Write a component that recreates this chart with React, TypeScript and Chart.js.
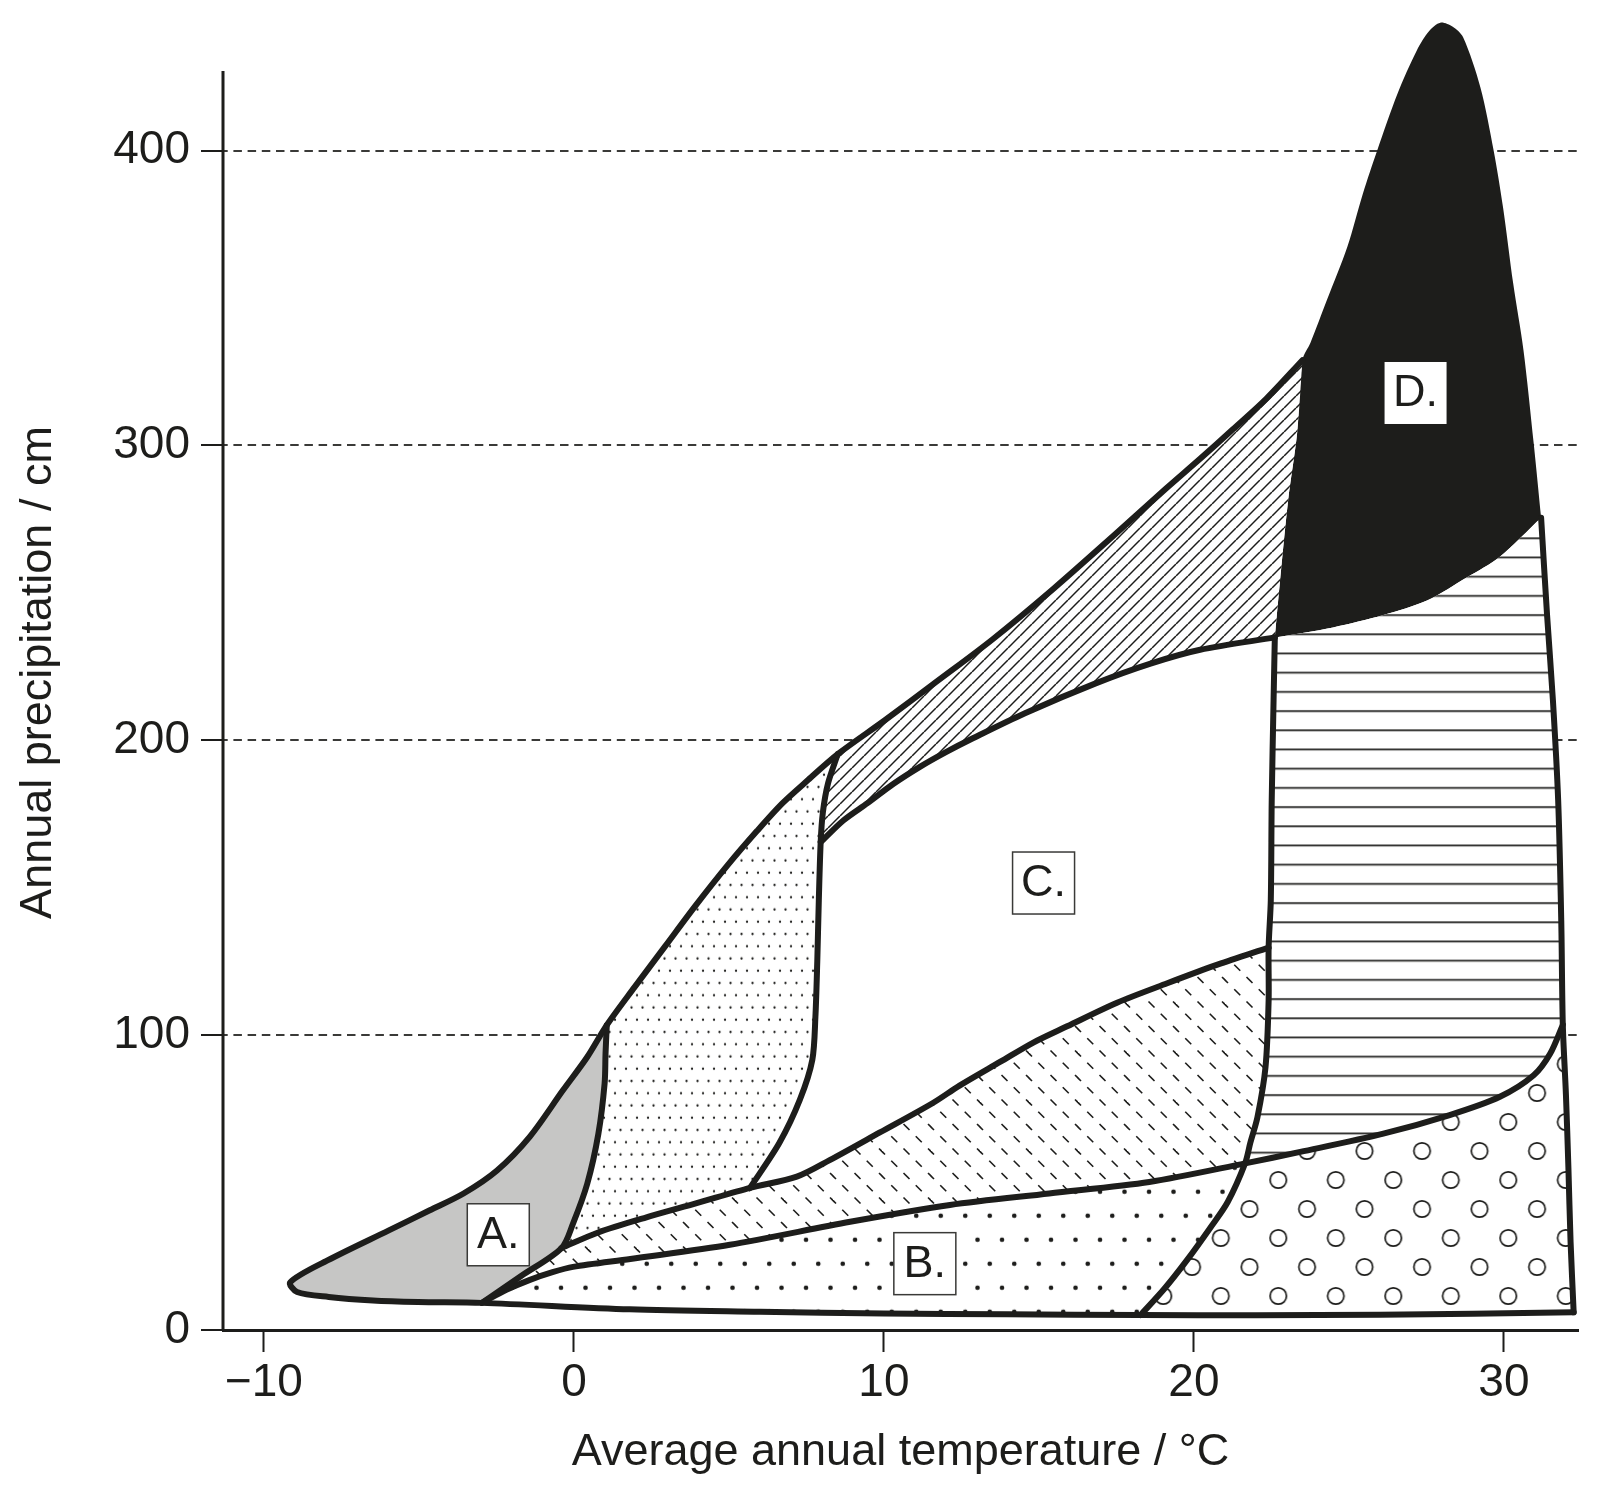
import { useEffect, useRef } from 'react';
import { Chart, registerables } from 'chart.js';

Chart.register(...registerables);

type Pt = [number, number];

// ---- axes ----
const X_MIN = -11.32;
const X_MAX = 32.39;
const Y_MIN = 0;
const Y_MAX = 446;
const Y_AXIS_TOP = 427;
const X_TICKS = [-10, 0, 10, 20, 30];
const Y_TICKS = [0, 100, 200, 300, 400];
const X_TITLE = 'Average annual temperature / °C';
const Y_TITLE = 'Annual precipitation / cm';

// ---- biome boundaries, as [temperature °C, precipitation cm] ----
const BOTTOM_LEFT: Pt[] = [[-9.15, 16.2], [-8.93, 12.9], [-7.91, 11.2], [-6.48, 10.0], [-5.03, 9.5], [-2.97, 9.2]];
const BOTTOM_MID: Pt[] = [[-2.97, 9.2], [1.8, 7.0], [6.0, 6.2], [10.0, 5.6], [14.0, 5.3], [18.28, 5.1]];
const BOTTOM_RIGHT: Pt[] = [[18.28, 5.1], [22.0, 5.0], [26.0, 5.2], [29.0, 5.5], [32.25, 6.0]];
const A_TOP: Pt[] = [[-9.15, 16.2], [-7.95, 23.6], [-5.97, 33.8], [-4.65, 40.6], [-3.56, 46.3], [-2.48, 54.1], [-1.42, 65.6], [-0.36, 81.2], [0.43, 92.6], [1.06, 103.4]];
const A_RIGHT: Pt[] = [[1.06, 103.4], [1.02, 93.7], [0.99, 83.6], [0.79, 66.6], [0.43, 49.6], [-0.03, 36.1], [-0.4, 27.8]];
const A_LOWER: Pt[] = [[-0.4, 27.8], [-1.68, 18.5], [-2.97, 9.2]];
const ENV_LOW: Pt[] = [[1.06, 103.4], [1.95, 116.2], [2.94, 130.1], [3.93, 144.0], [4.98, 157.9], [5.91, 169.3], [6.73, 178.7], [7.56, 186.6], [8.51, 195.3]];
const ENV_HIGH: Pt[] = [[8.51, 195.3], [10.03, 206.8], [11.75, 220.3], [13.5, 234.2], [15.48, 251.5], [17.46, 269.9], [19.11, 285.5], [20.2, 295.5], [21.25, 305.4], [22.34, 315.9], [23.5, 328.9]];
const D_TOP: Pt[] = [[23.5, 328.9], [23.76, 334.8], [24.29, 349.3], [24.95, 367.4], [25.45, 385.4], [25.91, 400.0], [26.57, 419.4], [27.19, 434.0], [27.59, 440.6], [27.95, 443.4], [28.35, 442.0], [28.68, 438.5], [29.24, 421.5], [29.67, 400.0], [29.97, 380.9], [30.3, 354.9], [30.63, 332.4], [30.96, 300.8], [31.2, 275.5]];
const D_LEFT: Pt[] = [[22.61, 234.9], [22.77, 253.3], [23.04, 281.4], [23.33, 304.3], [23.5, 328.9]];
const D_BOTTOM: Pt[] = [[31.2, 275.5], [29.87, 262.3], [28.81, 255.3], [27.52, 247.4], [26.11, 242.5], [24.49, 238.3], [22.61, 234.9]];
const RIGHT_EDGE_UP: Pt[] = [[31.2, 275.5], [31.39, 242.8], [31.58, 213.7], [31.75, 179.7], [31.85, 138.8], [31.9, 103.5]];
const RIGHT_EDGE_LOW: Pt[] = [[31.9, 103.5], [32.0, 80.0], [32.08, 55.2], [32.15, 30.0], [32.25, 6.0]];
const TAIGA_RIGHT_UP: Pt[] = [[8.51, 195.3], [8.2, 185.5], [8.03, 175.5], [7.96, 165.5]];
const TAIGA_RIGHT_LOW: Pt[] = [[7.96, 165.5], [7.9, 145.7], [7.85, 124.9], [7.79, 106.2], [7.69, 91.6], [7.29, 78.1], [6.63, 63.5], [5.68, 48.2]];
const C_TOP: Pt[] = [[7.96, 165.5], [8.7, 172.9], [9.47, 178.7], [10.3, 185.2], [11.16, 191.0], [12.0, 196.0], [12.87, 200.7], [14.55, 209.2], [16.83, 219.3], [18.6, 226.0], [20.2, 230.7], [22.61, 234.9]];
const GRASS_TOP_L: Pt[] = [[-0.4, 27.8], [0.76, 33.0], [2.34, 38.2], [3.96, 43.0], [5.68, 48.2]];
const GRASS_TOP_R: Pt[] = [[5.68, 48.2], [7.19, 52.0], [8.25, 57.6], [9.87, 67.0], [11.58, 77.0], [12.44, 82.9], [13.76, 91.0], [14.82, 97.5], [15.91, 103.0], [17.52, 111.0], [19.14, 117.6], [20.76, 123.9], [22.41, 129.7]];
const SEASONAL_LEFT_UP: Pt[] = [[22.61, 234.9], [22.57, 213.7], [22.51, 179.7], [22.48, 145.7], [22.41, 129.7]];
const SEASONAL_LEFT_MID: Pt[] = [[22.41, 129.7], [22.41, 111.7], [22.31, 89.2], [22.05, 72.2], [21.82, 63.5], [21.65, 56.5]];
const SAVANNA_LEFT: Pt[] = [[21.65, 56.5], [21.09, 43.4], [20.53, 34.7], [19.77, 23.6], [19.04, 13.9], [18.28, 5.1]];
const DESERT_TOP: Pt[] = [[-2.97, 9.2], [-2.18, 13.6], [-1.42, 17.0], [-0.69, 19.6], [-0.03, 21.4], [1.82, 24.1], [5.03, 28.9], [8.91, 36.7], [12.13, 42.4], [15.33, 46.3], [18.56, 50.2], [21.65, 56.5]];
const SAVANNA_TOP: Pt[] = [[21.65, 56.5], [23.43, 60.4], [26.11, 66.6], [28.25, 72.9], [29.87, 79.1], [30.96, 86.4], [31.49, 93.7], [31.9, 103.5]];

// ---- region labels ----
const LABEL_TEXT = ['A.', 'B.', 'C.', 'D.'];
const LABEL_T = [-2.44, 11.32, 15.15, 27.15];
const LABEL_P = [32.3, 22.5, 151.6, 317.8];
const LABEL_FRAMED = [true, true, true, false];

// ---- styling ----
const INK = '#1d1d1b';
const TUNDRA_GREY = '#c6c6c5';
const GRID_INK = '#3a3a38';
const FONT_FAMILY = '"Liberation Sans", Arial, Helvetica, sans-serif';
const OUTLINE_WIDTH = 6;
const TENSION = 0.3;

const rev = (c: Pt[]): Pt[] => [...c].reverse();
// joined parts keep the shared end point twice, giving a sharp corner
const join = (...parts: Pt[][]): Pt[] => parts.reduce((acc: Pt[], p) => acc.concat(p), []);
// chained parts drop the shared point, so the curve runs through it smoothly
const chain = (...parts: Pt[][]): Pt[] =>
  parts.reduce((acc: Pt[], p, i) => acc.concat(i === 0 ? p : p.slice(1)), []);
const toXY = (c: Pt[]) => c.map(([x, y]) => ({ x, y }));

type FillKey = 'grey' | 'fineDots' | 'hatch' | 'white' | 'dashes' | 'bigDots' | 'circles' | 'hLines' | 'black';

const REGIONS: { name: string; path: Pt[]; fill: FillKey }[] = [
  { name: 'Tundra', path: join(chain(rev(BOTTOM_LEFT), A_TOP), chain(A_RIGHT, A_LOWER)), fill: 'grey' },
  { name: 'Boreal forest', path: join(rev(A_RIGHT), ENV_LOW, chain(TAIGA_RIGHT_UP, TAIGA_RIGHT_LOW), rev(GRASS_TOP_L)), fill: 'fineDots' },
  { name: 'Temperate rain forest', path: join(rev(TAIGA_RIGHT_UP), ENV_HIGH, rev(D_LEFT), rev(C_TOP)), fill: 'hatch' },
  { name: 'Temperate forest', path: join(C_TOP, SEASONAL_LEFT_UP, rev(GRASS_TOP_R), rev(TAIGA_RIGHT_LOW)), fill: 'white' },
  { name: 'Temperate grassland', path: join(rev(A_LOWER), chain(GRASS_TOP_L, GRASS_TOP_R), SEASONAL_LEFT_MID, rev(DESERT_TOP)), fill: 'dashes' },
  { name: 'Desert', path: join(DESERT_TOP, SAVANNA_LEFT, rev(BOTTOM_MID)), fill: 'bigDots' },
  { name: 'Savanna', path: join(SAVANNA_TOP, RIGHT_EDGE_LOW, rev(BOTTOM_RIGHT), rev(SAVANNA_LEFT)), fill: 'circles' },
  { name: 'Tropical seasonal forest', path: join(chain(SEASONAL_LEFT_UP, SEASONAL_LEFT_MID), SAVANNA_TOP, rev(RIGHT_EDGE_UP), D_BOTTOM), fill: 'hLines' },
  { name: 'Tropical rain forest', path: join(chain(D_LEFT, D_TOP), D_BOTTOM), fill: 'black' },
];

const OUTLINES: Pt[][] = [
  chain(rev(BOTTOM_RIGHT), rev(BOTTOM_MID), rev(BOTTOM_LEFT), A_TOP, ENV_LOW, ENV_HIGH),
  chain(RIGHT_EDGE_UP, RIGHT_EDGE_LOW),
  chain(A_RIGHT, A_LOWER),
  chain(TAIGA_RIGHT_UP, TAIGA_RIGHT_LOW),
  C_TOP,
  chain(GRASS_TOP_L, GRASS_TOP_R),
  chain(SEASONAL_LEFT_UP, SEASONAL_LEFT_MID, SAVANNA_LEFT),
  chain(DESERT_TOP, SAVANNA_TOP),
];

// ---- fill patterns ----
function tile(w: number, h: number, paint: (g: CanvasRenderingContext2D) => void): HTMLCanvasElement {
  const c = document.createElement('canvas');
  c.width = w;
  c.height = h;
  const g = c.getContext('2d') as CanvasRenderingContext2D;
  g.fillStyle = '#ffffff';
  g.fillRect(0, 0, w, h);
  g.fillStyle = INK;
  g.strokeStyle = INK;
  paint(g);
  return c;
}

function wrapped(w: number, h: number, x: number, y: number, fn: (px: number, py: number) => void) {
  for (const dx of [-w, 0, w]) for (const dy of [-h, 0, h]) fn(x + dx, y + dy);
}

function buildFills(ctx: CanvasRenderingContext2D): Record<FillKey, string | CanvasPattern> {
  const pat = (c: HTMLCanvasElement, ox: number, oy: number) => {
    const p = ctx.createPattern(c, 'repeat') as CanvasPattern;
    p.setTransform(new DOMMatrix([1, 0, 0, 1, ox, oy]));
    return p;
  };
  const dot = (g: CanvasRenderingContext2D, r: number) => (x: number, y: number) => {
    g.beginPath();
    g.arc(x, y, r, 0, Math.PI * 2);
    g.fill();
  };

  const fineDots = tile(22, 49, (g) => {
    for (let r = 0; r < 4; r++) {
      const y = r * 12.25;
      const x0 = r % 2 ? 5.5 : 0;
      for (const x of [x0, x0 + 11]) wrapped(22, 49, x, y, dot(g, 1.15));
    }
  });

  const bigDots = tile(49, 48, (g) => {
    for (const [x, y] of [[0, 0], [24.5, 0], [12.25, 24], [36.75, 24]]) wrapped(49, 48, x, y, dot(g, 2.35));
  });

  const dashes = tile(49, 49, (g) => {
    g.lineWidth = 1.6;
    for (let r = 0; r < 4; r++) {
      const y = r * 12.25;
      const x0 = r % 2 ? 12.25 : 0;
      for (const x of [x0, x0 + 24.5]) {
        wrapped(49, 49, x, y, (px, py) => {
          g.beginPath();
          g.moveTo(px - 3, py - 3);
          g.lineTo(px + 3, py + 3);
          g.stroke();
        });
      }
    }
  });

  const hatch = tile(12, 12, (g) => {
    g.lineWidth = 1.5;
    for (const x of [-12, 0, 12]) {
      g.beginPath();
      g.moveTo(x, 12);
      g.lineTo(x + 12, 0);
      g.stroke();
    }
  });

  const hLines = tile(8, 96, (g) => {
    for (let k = 0; k <= 5; k++) g.fillRect(0, k * 19.2 - 0.85, 8, 1.7);
  });

  const circles = tile(115, 58, (g) => {
    g.lineWidth = 1.7;
    for (const [x, y] of [[0, 0], [57.5, 0], [28.75, 29], [86.25, 29]]) {
      wrapped(115, 58, x, y, (px, py) => {
        g.beginPath();
        g.arc(px, py, 8.2, 0, Math.PI * 2);
        g.stroke();
      });
    }
  });

  return {
    grey: TUNDRA_GREY,
    fineDots: pat(fineDots, 21, 39.7),
    hatch: pat(hatch, 0, 0),
    white: '#ffffff',
    dashes: pat(dashes, 0, 0),
    bigDots: pat(bigDots, 22, 39.7),
    circles: pat(circles, 13.3, 20),
    hLines: pat(hLines, 0, 58.3),
    black: INK,
  };
}

// boxed region letters, placed through the chart scales
const regionLabels = {
  id: 'regionLabels',
  afterDatasetsDraw(chart: Chart) {
    const { ctx } = chart;
    const xs = chart.scales.x;
    const ys = chart.scales.y;
    const size = 62;
    ctx.save();
    LABEL_TEXT.forEach((text, i) => {
      const cx = xs.getPixelForValue(LABEL_T[i]);
      const cy = ys.getPixelForValue(LABEL_P[i]);
      ctx.fillStyle = '#ffffff';
      ctx.fillRect(cx - size / 2, cy - size / 2, size, size);
      if (LABEL_FRAMED[i]) {
        ctx.strokeStyle = GRID_INK;
        ctx.lineWidth = 1.5;
        ctx.strokeRect(cx - size / 2, cy - size / 2, size, size);
      }
      ctx.fillStyle = INK;
      ctx.font = `45px ${FONT_FAMILY}`;
      ctx.textAlign = 'center';
      ctx.textBaseline = 'middle';
      ctx.fillText(text, cx, cy + 1);
    });
    ctx.restore();
  },
};

export default function App() {
  const canvasRef = useRef<HTMLCanvasElement | null>(null);

  useEffect(() => {
    const canvas = canvasRef.current;
    if (!canvas) return;
    const ctx = canvas.getContext('2d') as CanvasRenderingContext2D;
    const fills = buildFills(ctx);

    const regionSets = REGIONS.map((r) => ({
      label: r.name,
      data: toXY(r.path),
      showLine: true,
      fill: 'shape',
      backgroundColor: fills[r.fill],
      borderWidth: 0,
      borderColor: 'rgba(0,0,0,0)',
      pointRadius: 0,
      pointHoverRadius: 0,
      tension: TENSION,
      clip: false,
      order: 2,
    }));

    const outlineSets = OUTLINES.map((c, i) => ({
      label: `outline-${i}`,
      data: toXY(c),
      showLine: true,
      fill: false,
      borderColor: INK,
      borderWidth: OUTLINE_WIDTH,
      borderCapStyle: 'round',
      borderJoinStyle: 'round',
      pointRadius: 0,
      pointHoverRadius: 0,
      tension: TENSION,
      clip: false,
      order: 1,
    }));

    const yAxisLine = {
      label: 'y-axis',
      data: [{ x: X_MIN, y: Y_MIN }, { x: X_MIN, y: Y_AXIS_TOP }],
      showLine: true,
      fill: false,
      borderColor: INK,
      borderWidth: 3,
      pointRadius: 0,
      pointHoverRadius: 0,
      tension: 0,
      clip: false,
      order: 1,
    };

    const chart = new Chart(ctx, {
      type: 'scatter',
      data: { datasets: [...outlineSets, yAxisLine, ...regionSets] as any },
      options: {
        responsive: false,
        animation: false,
        devicePixelRatio: 1,
        events: [],
        layout: { padding: { top: 15, right: 26, bottom: 0, left: 0 } },
        elements: { line: { capBezierPoints: false } },
        plugins: {
          legend: { display: false },
          tooltip: { enabled: false },
        },
        scales: {
          x: {
            type: 'linear',
            min: X_MIN,
            max: X_MAX,
            afterBuildTicks: (s: any) => {
              s.ticks = X_TICKS.map((v) => ({ value: v }));
            },
            afterFit: (s: any) => {
              s.height = 165;
              s.paddingLeft = 0;
              s.paddingRight = 0;
              s.paddingTop = 0;
              s.paddingBottom = 0;
            },
            ticks: {
              padding: 4,
              color: INK,
              font: { family: FONT_FAMILY, size: 46 },
              callback: (v: any) => String(v).replace('-', '\u2212'),
            },
            grid: {
              drawOnChartArea: false,
              drawTicks: true,
              tickLength: 22,
              tickWidth: 2,
              tickColor: INK,
              color: INK,
            },
            border: { display: true, color: INK, width: 3 },
            title: {
              display: true,
              text: X_TITLE,
              color: INK,
              font: { family: FONT_FAMILY, size: 45 },
              padding: { top: 0, bottom: 15 },
            },
          },
          y: {
            type: 'linear',
            min: Y_MIN,
            max: Y_MAX,
            afterBuildTicks: (s: any) => {
              s.ticks = Y_TICKS.map((v) => ({ value: v }));
            },
            afterFit: (s: any) => {
              s.width = 223;
              s.paddingLeft = 0;
              s.paddingRight = 0;
              s.paddingTop = 0;
              s.paddingBottom = 0;
            },
            ticks: {
              padding: 11,
              color: INK,
              font: { family: FONT_FAMILY, size: 46 },
            },
            grid: {
              drawOnChartArea: true,
              drawTicks: true,
              tickLength: 22,
              tickWidth: 2,
              tickColor: INK,
              lineWidth: 2,
              color: (c: any) => (c.tick && c.tick.value === 0 ? 'rgba(0,0,0,0)' : GRID_INK),
            },
            border: { display: false, dash: [8.5, 5.7], dashOffset: 3.8 },
            title: {
              display: true,
              text: Y_TITLE,
              color: INK,
              font: { family: FONT_FAMILY, size: 45 },
              padding: { top: 12, bottom: 0 },
            },
          },
        },
      } as any,
      plugins: [regionLabels as any],
    });

    return () => chart.destroy();
  }, []);

  return (
    <div style={{ position: 'absolute', left: 0, top: 0, width: 1604, height: 1495, background: '#ffffff' }}>
      <canvas ref={canvasRef} width={1604} height={1495} style={{ display: 'block' }} />
    </div>
  );
}
